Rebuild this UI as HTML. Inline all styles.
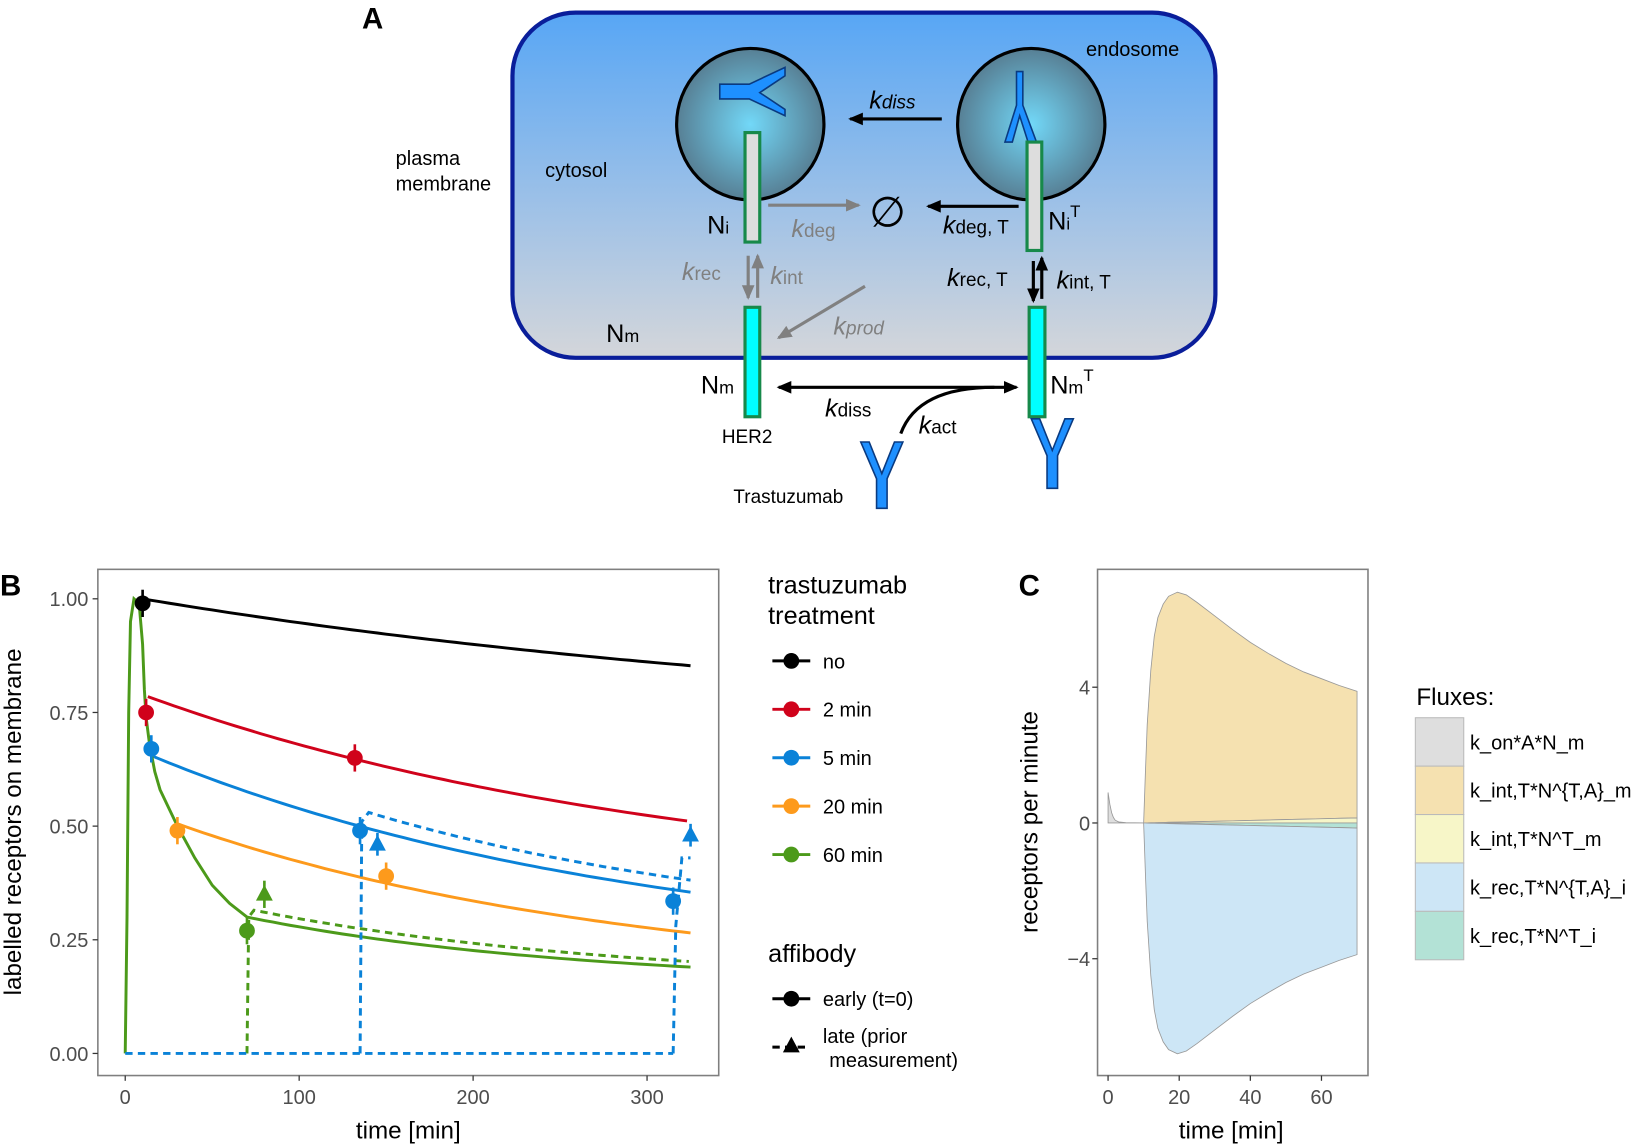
<!DOCTYPE html>
<html><head><meta charset="utf-8"><style>
html,body{margin:0;padding:0;background:#fff}
svg{display:block}
text{font-family:"Liberation Sans",Arial,sans-serif}
</style></head><body>
<svg id="s" width="1650" height="1145" viewBox="0 0 1568 1088" preserveAspectRatio="none" xmlns="http://www.w3.org/2000/svg">
<defs>
<linearGradient id="cell" x1="0" y1="0" x2="0" y2="1">
<stop offset="0" stop-color="#57a6f5"/><stop offset="0.6" stop-color="#a3c3e6"/><stop offset="1" stop-color="#d4d6da"/></linearGradient>
<radialGradient id="endo" cx="0.5" cy="0.5" r="0.5">
<stop offset="0" stop-color="#72d8f8"/><stop offset="1" stop-color="#577f94"/></radialGradient>
<marker id="ab" markerUnits="userSpaceOnUse" markerWidth="14" markerHeight="14" refX="12" refY="7" orient="auto"><path d="M0,1 L14,7 L0,13 z" fill="#000"/></marker>
<marker id="ag" markerUnits="userSpaceOnUse" markerWidth="14" markerHeight="14" refX="12" refY="7" orient="auto"><path d="M0,1 L14,7 L0,13 z" fill="#808080"/></marker>
<marker id="abs" markerUnits="userSpaceOnUse" markerWidth="14" markerHeight="14" refX="2" refY="7" orient="auto"><path d="M14,1 L0,7 L14,13 z" fill="#000"/></marker>
</defs>

<!-- Panel A -->
<text x="344" y="27" font-size="28" font-weight="bold">A</text>
<rect x="487" y="12" width="668" height="328" rx="60" fill="url(#cell)" stroke="#0a1e9a" stroke-width="4"/>
<ellipse cx="713" cy="118" rx="70" ry="72" fill="url(#endo)" stroke="#000" stroke-width="3"/>
<ellipse cx="980" cy="118" rx="70" ry="72" fill="url(#endo)" stroke="#000" stroke-width="3"/>
<path d="M684,80 L712,80 L746,64 L746,72 L722,88 L746,104 L746,110 L712,94 L684,94 z" fill="#1e90ff" stroke="#0a3a80" stroke-width="1.5"/>
<path d="M966,68 L972,68 L972,100 L985,135 L977,135 L969,110 L962,135 L955,135 L966,100 z" fill="#1e90ff" stroke="#0a3a80" stroke-width="1.5"/>
<rect x="708" y="126" width="14" height="104" fill="#ddd" stroke="#17894a" stroke-width="3"/>
<rect x="976" y="135" width="14" height="103" fill="#ddd" stroke="#17894a" stroke-width="3"/>
<rect x="708" y="292" width="14" height="104" fill="#00ffff" stroke="#17894a" stroke-width="3"/>
<rect x="978" y="292" width="15" height="104" fill="#00ffff" stroke="#17894a" stroke-width="3"/>
<g font-size="19">
<text x="376" y="157">plasma</text><text x="376" y="181">membrane</text>
<text x="518" y="168">cytosol</text><text x="1032" y="53">endosome</text>
<text x="686" y="421" font-size="18">HER2</text>
<text x="697" y="478" font-size="18">Trastuzumab</text>
</g>
<line x1="895" y1="113" x2="808" y2="113" stroke="#000" stroke-width="3" marker-end="url(#ab)"/>
<text x="826" y="103" font-size="24" font-style="italic">k<tspan font-size="18">diss</tspan></text>
<text x="672" y="222" font-size="24">N<tspan font-size="16">i</tspan></text>
<line x1="730" y1="195" x2="816" y2="195" stroke="#808080" stroke-width="3" marker-end="url(#ag)"/>
<text x="752" y="225" font-size="24" fill="#808080" font-style="italic">k<tspan font-size="18" font-style="normal">deg</tspan></text>
<text x="826" y="215" font-size="40">∅</text>
<line x1="968" y1="196" x2="882" y2="196" stroke="#000" stroke-width="3" marker-end="url(#ab)"/>
<text x="896" y="222" font-size="24" font-style="italic">k<tspan font-size="18" font-style="normal">deg, T</tspan></text>
<text x="996" y="218" font-size="24">N<tspan font-size="16">i</tspan><tspan font-size="16" dy="-12">T</tspan></text>
<line x1="711" y1="243" x2="711" y2="283" stroke="#808080" stroke-width="3" marker-end="url(#ag)"/>
<line x1="720" y1="283" x2="720" y2="243" stroke="#808080" stroke-width="3" marker-end="url(#ag)"/>
<text x="648" y="266" font-size="24" fill="#808080" font-style="italic">k<tspan font-size="18" font-style="normal">rec</tspan></text>
<text x="732" y="270" font-size="24" fill="#808080" font-style="italic">k<tspan font-size="18" font-style="normal">int</tspan></text>
<line x1="822" y1="272" x2="740" y2="321" stroke="#808080" stroke-width="3" marker-end="url(#ag)"/>
<text x="792" y="318" font-size="24" fill="#808080" font-style="italic">k<tspan font-size="18">prod</tspan></text>
<line x1="982" y1="248" x2="982" y2="286" stroke="#000" stroke-width="3" marker-end="url(#ab)"/>
<line x1="990" y1="284" x2="990" y2="245" stroke="#000" stroke-width="3" marker-end="url(#ab)"/>
<text x="900" y="272" font-size="24" font-style="italic">k<tspan font-size="18" font-style="normal">rec, T</tspan></text>
<text x="1004" y="274" font-size="24" font-style="italic">k<tspan font-size="18" font-style="normal">int, T</tspan></text>
<text x="576" y="325" font-size="24">N<tspan font-size="17">m</tspan></text>
<text x="666" y="374" font-size="24">N<tspan font-size="17">m</tspan></text>
<text x="998" y="374" font-size="24">N<tspan font-size="17">m</tspan><tspan font-size="16" dy="-12">T</tspan></text>
<line x1="740" y1="368" x2="966" y2="368" stroke="#000" stroke-width="3" marker-start="url(#abs)" marker-end="url(#ab)"/>
<path d="M856,412 Q872,368 945,368" fill="none" stroke="#000" stroke-width="3"/>
<text x="784" y="396" font-size="24" font-style="italic">k<tspan font-size="18" font-style="normal">diss</tspan></text>
<text x="873" y="412" font-size="24" font-style="italic">k<tspan font-size="18" font-style="normal">act</tspan></text>
<path d="M818,420 L826,420 L838,450 L850,420 L858,420 L843,455 L843,483 L833,483 L833,455 z" fill="#1e90ff" stroke="#0a3a80" stroke-width="1.5"/>
<path d="M980,398 L988,398 L1000,428 L1012,398 L1020,398 L1005,433 L1005,464 L995,464 L995,433 z" fill="#1e90ff" stroke="#0a3a80" stroke-width="1.5"/>

<!-- Panel B -->
<text x="0" y="566" font-size="28" font-weight="bold">B</text>
<rect x="93" y="541" width="590" height="481" fill="#fff" stroke="#7f7f7f" stroke-width="1.5"/>
<g id="bticks" font-size="19" fill="#4d4d4d" text-anchor="end"></g>
<g id="bplot"></g>
<text transform="translate(20,781) rotate(-90)" font-size="23" text-anchor="middle">labelled receptors on membrane</text>
<text x="388" y="1082" font-size="23" text-anchor="middle">time [min]</text>
<g font-size="24"><text x="730" y="564">trastuzumab</text><text x="730" y="593">treatment</text>
<text x="730" y="914">affibody</text></g>
<g id="bleg" font-size="19"></g>

<!-- Panel C -->
<text x="968" y="566" font-size="28" font-weight="bold">C</text>
<rect x="1043" y="541" width="257" height="481" fill="#fff" stroke="#7f7f7f" stroke-width="1.5"/>
<g id="cplot"></g>
<text transform="translate(986,781) rotate(-90)" font-size="23" text-anchor="middle">receptors per minute</text>
<text x="1170" y="1082" font-size="23" text-anchor="middle">time [min]</text>
<text x="1346" y="670" font-size="23">Fluxes:</text>
<g id="cleg" font-size="19"></g>
</svg>
<script>
(function(){
var NS="http://www.w3.org/2000/svg";
function el(p,t,a,txt){var e=document.createElementNS(NS,t);for(var k in a)e.setAttribute(k,a[k]);if(txt!==undefined)e.textContent=txt;document.getElementById(p).appendChild(e);return e;}
var X=function(t){return 119+1.653*t},Y=function(v){return 1001-432*v};
[0,0.25,0.5,0.75,1].forEach(function(v){el('bticks','text',{x:84,y:Y(v)+7},v.toFixed(2));el('bplot','line',{x1:88,x2:93,y1:Y(v),y2:Y(v),stroke:'#333','stroke-width':1.2});});
[0,100,200,300].forEach(function(t){el('bticks','text',{x:X(t),y:1049,'text-anchor':'middle'},String(t));el('bplot','line',{x1:X(t),x2:X(t),y1:1022,y2:1027,stroke:'#333','stroke-width':1.2});});
function path(pts,fx,fy){return pts.map(function(p,i){return (i?'L':'M')+fx(p[0]).toFixed(1)+','+fy(p[1]).toFixed(1)}).join(' ');}
function dec(t0,v0,c,k,t1){var a=[];for(var t=t0;t<=t1+0.01;t+=5)a.push([t,c+(v0-c)*Math.exp(-k*(t-t0))]);return a;}
var C={k:'#000',r:'#d0021b',b:'#0a82d8',o:'#fd9a1c',g:'#4c9a1a'};
function line(pts,col,dash){el('bplot','path',{d:path(pts,X,Y),fill:'none',stroke:col,'stroke-width':2.8,'stroke-dasharray':dash||'none'});}
line(dec(10,1,0.7,0.00214,325),C.k);
line(dec(13,0.785,0.35,0.0032,325),C.r);
line(dec(15,0.655,0.2,0.00348,325),C.b);
line(dec(30,0.505,0.15,0.00382,325),C.o);
var g=[[0,0],[1,0.3],[2,0.75],[3,0.95],[5,1.0],[8,0.99],[10,0.9],[11,0.8],[12,0.74],[14,0.68],[17,0.62],[20,0.58],[25,0.54],[30,0.5],[40,0.43],[50,0.37],[60,0.33],[70,0.3]].concat(dec(70,0.3,0.15,0.00518,325).slice(1));
line(g,C.g);
var gd=[[70,0],[71,0.3],[74,0.315]].concat(dec(74,0.315,0.15,0.0046,325).slice(1));
line(gd,C.g,'7,5');
line([[0,0],[315,0]],C.b,'7,5');
line([[135,0],[136,0.51],[140,0.53]].concat(dec(140,0.53,0.25,0.0041,325).slice(1)),C.b,'7,5');
line([[315,0],[316.5,0.28],[320,0.43],[325,0.43]],C.b,'7,5');
function pt(t,v,col,tri,e){e=e||0.03;el('bplot','line',{x1:X(t),x2:X(t),y1:Y(v-e),y2:Y(v+e),stroke:col,'stroke-width':2.5});
 if(tri){var x=X(t),y=Y(v);el('bplot','path',{d:'M'+x+','+(y-9)+' L'+(x+8)+','+(y+6)+' L'+(x-8)+','+(y+6)+'z',fill:col});}
 else el('bplot','circle',{cx:X(t),cy:Y(v),r:7.5,fill:col});}
pt(10,0.99,C.k);pt(12,0.75,C.r);pt(15,0.67,C.b);pt(30,0.49,C.o);pt(132,0.65,C.r);pt(135,0.49,C.b);
pt(145,0.46,C.b,1,0.025);pt(150,0.39,C.o);pt(70,0.27,C.g);pt(80,0.35,C.g,1);pt(315,0.335,C.b);pt(325,0.48,C.b,1,0.025);
[['no',C.k],['2 min',C.r],['5 min',C.b],['20 min',C.o],['60 min',C.g]].forEach(function(d,i){var y=628+46*i;
 el('bleg','line',{x1:734,x2:770,y1:y,y2:y,stroke:d[1],'stroke-width':2.8});el('bleg','circle',{cx:752,cy:y,r:7.5,fill:d[1]});el('bleg','text',{x:782,y:y+7},d[0]);});
el('bleg','line',{x1:734,x2:770,y1:949,y2:949,stroke:'#000','stroke-width':2.8});el('bleg','circle',{cx:752,cy:949,r:7.5,fill:'#000'});
el('bleg','text',{x:782,y:956},'early (t=0)');
el('bleg','line',{x1:734,x2:770,y1:995,y2:995,stroke:'#000','stroke-width':2.8,'stroke-dasharray':'7,5'});
el('bleg','path',{d:'M752,985 L760,1000 L744,1000z',fill:'#000'});
el('bleg','text',{x:782,y:991},'late (prior');el('bleg','text',{x:788,y:1014},' measurement)');
// Panel C
var CX=function(t){return 1053+3.38*t},CY=function(v){return 782-32.25*v};
el('cplot','g',{id:'ct','font-size':'19',fill:'#4d4d4d'});
[[4,'4'],[0,'0'],[-4,'\u22124']].forEach(function(d){el('ct','text',{x:1036,y:CY(d[0])+7,'text-anchor':'end'},d[1]);el('cplot','line',{x1:1038,x2:1043,y1:CY(d[0]),y2:CY(d[0]),stroke:'#333','stroke-width':1.2});});
[0,20,40,60].forEach(function(t){el('ct','text',{x:CX(t),y:1049,'text-anchor':'middle'},String(t));el('cplot','line',{x1:CX(t),x2:CX(t),y1:1022,y2:1027,stroke:'#333','stroke-width':1.2});});
var tp=[[10,0],[10.5,1.5],[11,2.9],[12,4.5],[13,5.5],[14,6.05],[15.5,6.45],[17,6.68],[19.5,6.8],[22,6.72],[25,6.5],[30,6.1],[35,5.7],[40,5.32],[45,5],[50,4.7],[55,4.45],[60,4.25],[65,4.05],[70,3.88]];
function area(pts,base,col){var d=path(pts,CX,CY);for(var i=base.length-1;i>=0;i--)d+=' L'+CX(base[i][0]).toFixed(1)+','+CY(base[i][1]).toFixed(1);el('cplot','path',{d:d+'z',fill:col,stroke:'#999','stroke-width':0.8});}
var zero=tp.map(function(p){return[p[0],0]});
var yb=tp.map(function(p){return [p[0],0.15*(p[0]-10)/60]});
area(tp,yb,'#f5e1b0');
area(yb,zero,'#f7f6c8');
var gb=tp.map(function(p){return [p[0],-0.15*(p[0]-10)/60]});
area(gb,zero,'#b3e2d6');
area(tp.map(function(p){return[p[0],-p[1]]}),gb,'#cde6f6');
var gr=[[0,0],[0,0.9],[0.5,0.55],[1,0.3],[1.5,0.16],[2,0.08],[3,0.03],[5,0.01],[10,0]];
area(gr,[[0,0],[10,0]],'#dedede');
[['k_on*A*N_m','#dedede'],['k_int,T*N^{T,A}_m','#f5e1b0'],['k_int,T*N^T_m','#f7f6c8'],['k_rec,T*N^{T,A}_i','#cde6f6'],['k_rec,T*N^T_i','#b3e2d6']].forEach(function(d,i){var y=682+46*i;
 el('cleg','rect',{x:1345,y:y,width:46,height:46,fill:d[1],stroke:'#bbb','stroke-width':1});el('cleg','text',{x:1397,y:y+30},d[0]);});
})();
</script>
</body></html>
